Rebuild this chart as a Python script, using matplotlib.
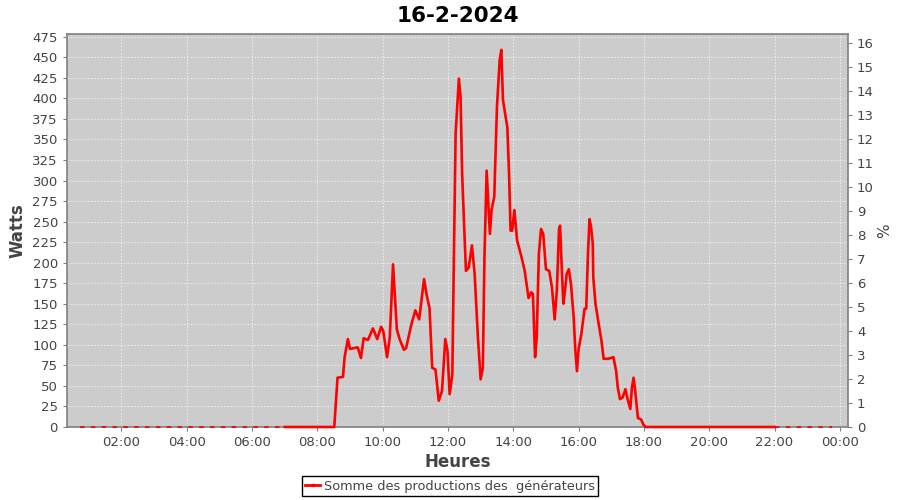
import matplotlib.pyplot as plt
from matplotlib.ticker import FixedLocator, FuncFormatter
from matplotlib.lines import Line2D

# Production (W), heure -> watts
heures = ["07:00", "08:31", "08:37", "08:47", "08:50", "08:56", "09:00", "09:14",
          "09:20", "09:25", "09:33", "09:42", "09:50", "09:57", "10:01", "10:08",
          "10:13", "10:19", "10:26", "10:31", "10:39", "10:43", "10:52", "11:00",
          "11:07", "11:16", "11:21", "11:26", "11:31", "11:37", "11:43", "11:49",
          "11:55", "11:59", "12:03", "12:08", "12:10", "12:14", "12:20", "12:23",
          "12:26", "12:30", "12:33", "12:38", "12:44", "12:49", "12:55", "13:00",
          "13:04", "13:07", "13:11", "13:17", "13:20", "13:25", "13:30", "13:35",
          "13:38", "13:41", "13:46", "13:49", "13:52", "13:55", "13:58", "14:02",
          "14:07", "14:15", "14:21", "14:28", "14:33", "14:36", "14:40", "14:43",
          "14:47", "14:51", "14:55", "15:00", "15:06", "15:11", "15:16", "15:20",
          "15:24", "15:26", "15:29", "15:32", "15:35", "15:38", "15:42", "15:46",
          "15:51", "15:54", "15:57", "16:00", "16:05", "16:11", "16:14", "16:17",
          "16:20", "16:23", "16:26", "16:27", "16:31", "16:37", "16:42", "16:46",
          "16:54", "17:04", "17:09", "17:12", "17:16", "17:21", "17:26", "17:30",
          "17:35", "17:38", "17:41", "17:44", "17:49", "17:55", "17:59", "18:03",
          "22:00"]
watts = [0, 0, 60, 61, 85, 107, 95, 97,
         84, 108, 106, 120, 107, 122, 117, 85,
         109, 198, 119, 107, 94, 96, 123, 142,
         131, 180, 160, 145, 72, 70, 32, 44,
         107, 93, 40, 64, 166, 357, 424, 402,
         308, 239, 190, 194, 221, 186, 109, 58,
         72, 207, 312, 235, 264, 280, 390, 447,
         459, 398, 377, 365, 312, 239, 239, 264,
         227, 207, 190, 157, 164, 162, 85, 109,
         211, 241, 235, 192, 190, 170, 131, 166,
         241, 245, 194, 150, 166, 186, 192, 174,
         133, 93, 68, 95, 113, 144, 144, 207,
         253, 243, 223, 182, 150, 125, 105, 83,
         83, 85, 68, 48, 34, 36, 46, 34,
         22, 48, 60, 44, 11, 9, 3, 0,
         0]

# relevés épars (à zéro) en début et fin de journée
heures_nuit = [["00:43", "07:00"], ["22:00", "23:45"]]
watts_nuit = [[0, 0], [0, 0]]


def en_heures(h):
    hh, mm = h.split(":")
    return int(hh) + int(mm) / 60


t = [en_heures(h) for h in heures]

gris = "#444444"
fig = plt.figure(figsize=(9, 5), dpi=100)
ax = fig.add_axes([0.0744, 0.146, 0.8678, 0.786])
ax.set_facecolor("#cccccc")

for hn, wn in zip(heures_nuit, watts_nuit):
    ax.plot([en_heures(h) for h in hn], wn, color="red", lw=1.3,
            linestyle=(0, (2.5, 3.5)), clip_on=False, zorder=4)
ax.plot(t, watts, color="red", lw=1.9, clip_on=False, zorder=4)

ax.set_xlim(0.33, 24.25)
ax.set_ylim(0, 478.3)
ax.xaxis.set_major_locator(FixedLocator(range(2, 25, 2)))
ax.xaxis.set_major_formatter(FuncFormatter(lambda v, p: "%02d:00" % (int(round(v)) % 24)))
ax.set_yticks(range(0, 476, 25))
ax.grid(True, color="#f2f2f2", linestyle=(0, (2, 2)), linewidth=0.6)
ax.set_axisbelow(True)

for s in ax.spines.values():
    s.set_color("#808080")
    s.set_linewidth(1.2)
ax.tick_params(colors=gris, labelsize=9.5, length=3, width=0.8)
ax.tick_params(axis="x", colors="#808080", labelcolor=gris)
ax.tick_params(axis="y", colors="#808080", labelcolor=gris)

ax.set_xlabel("Heures", fontsize=12, fontweight="bold", color=gris, labelpad=3)
ax.set_ylabel("Watts", fontsize=12, fontweight="bold", color=gris, labelpad=4)
ax.set_title("16-2-2024", fontsize=15.5, fontweight="bold", pad=9)

ax2 = ax.twinx()
ax2.set_ylim(0, 16.36)
ax2.set_yticks(range(0, 17))
ax2.tick_params(colors="#808080", labelcolor=gris, labelsize=9.5, length=3, width=0.8)
for s in ax2.spines.values():
    s.set_visible(False)
ax2.set_ylabel("%", fontsize=11, color=gris, labelpad=2)

poignee = Line2D([], [], color="red", lw=2, marker="s", markersize=1.5)
leg = fig.legend([poignee], ["Somme des productions des  générateurs"],
                 loc="lower center", bbox_to_anchor=(0.5, 0.003), fontsize=9.3,
                 fancybox=False, edgecolor="black", framealpha=1,
                 handlelength=1.2, handletextpad=0.3, borderpad=0.25,
                 borderaxespad=0.2)
leg.get_frame().set_linewidth(1.0)
for txt in leg.get_texts():
    txt.set_color(gris)

fig.savefig("out.png")
